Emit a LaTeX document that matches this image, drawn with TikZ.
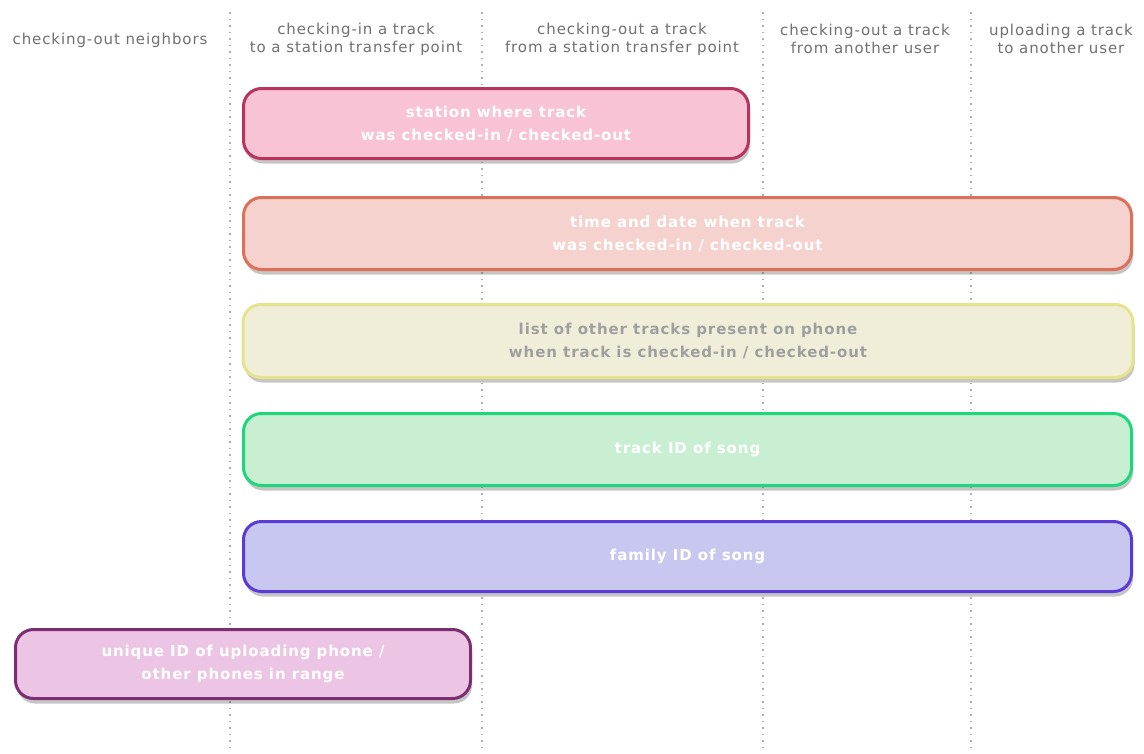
\documentclass[tikz,border=0pt]{standalone}
\usepackage{fontspec}
\setmainfont{DejaVu Sans}
\newfontfamily\headfont{DejaVu Sans}[LetterSpace=6]
\newfontfamily\tagfont{DejaVu Sans}[LetterSpace=6]
\usetikzlibrary{shadows}
\definecolor{headgray}{HTML}{707070}
\definecolor{lanegray}{HTML}{B0B0B0}
\definecolor{stationfill}{HTML}{F8C3D4}
\definecolor{stationline}{HTML}{B8345E}
\definecolor{timefill}{HTML}{F6D2CE}
\definecolor{timeline}{HTML}{DD7058}
\definecolor{listfill}{HTML}{F0EED8}
\definecolor{listline}{HTML}{E6E48A}
\definecolor{trackfill}{HTML}{C9EFD3}
\definecolor{trackline}{HTML}{1ED77A}
\definecolor{familyfill}{HTML}{C8C7F0}
\definecolor{familyline}{HTML}{5B3BD6}
\definecolor{phonefill}{HTML}{ECC4E4}
\definecolor{phoneline}{HTML}{7B2F72}

\begin{document}
\begin{tikzpicture}[x=1pt,y=-1pt]
    \useasboundingbox (0,0) rectangle (1144,753);
    \tikzstyle{head}=[text=headgray,align=center,font=\headfont\fontsize{15}{18}\selectfont]
    \tikzstyle{lane}=[draw=lanegray,line width=1.5pt,dash pattern=on 1.5pt off 5pt]
    \tikzstyle{field}=[rounded corners=18pt,line width=3pt,align=center,
        font=\tagfont\bfseries\fontsize{15}{23}\selectfont,text=white,
        drop shadow={shadow xshift=1.5pt,shadow yshift=-5pt,opacity=0.3,fill=black!75}]
    \foreach \x/\n in {230/a,482/b,763/c,971/d}{
        \coordinate (top\n) at (\x,12);
        \coordinate (bot\n) at (\x,753);
        \draw[lane] (top\n) -- (bot\n);
    }
    \node[head] (neighbors) at (110,40) {checking-out neighbors};
    \node[head] (stationin) at (356,39) {checking-in a track\\to a station transfer point};
    \node[head] (stationout) at (622,39) {checking-out a track\\from a station transfer point};
    \node[head] (userout) at (865,39) {checking-out a track\\from another user};
    \node[head] (userup) at (1061,39) {uploading a track\\to another user};
    \node[field,fill=stationfill,draw=stationline,minimum width=505,minimum height=70]
        (station) at (496,123.5) {station where track\\was checked-in / checked-out};
    \node[field,fill=timefill,draw=timeline,minimum width=888,minimum height=72]
        (time) at (687.5,233.5) {time and date when track\\was checked-in / checked-out};
    \node[field,fill=listfill,draw=listline,text=gray!75,minimum width=890,minimum height=73]
        (list) at (688,341) {list of other tracks present on phone\\when track is checked-in / checked-out};
    \node[field,fill=trackfill,draw=trackline,minimum width=888,minimum height=72]
        (trackid) at (687.5,449.5) {track ID of song};
    \node[field,fill=familyfill,draw=familyline,minimum width=888,minimum height=70]
        (familyid) at (687.5,556.5) {family ID of song};
    \node[field,fill=phonefill,draw=phoneline,minimum width=455,minimum height=69]
        (phoneid) at (243,664) {unique ID of uploading phone /\\other phones in range};
\end{tikzpicture}
\end{document}
